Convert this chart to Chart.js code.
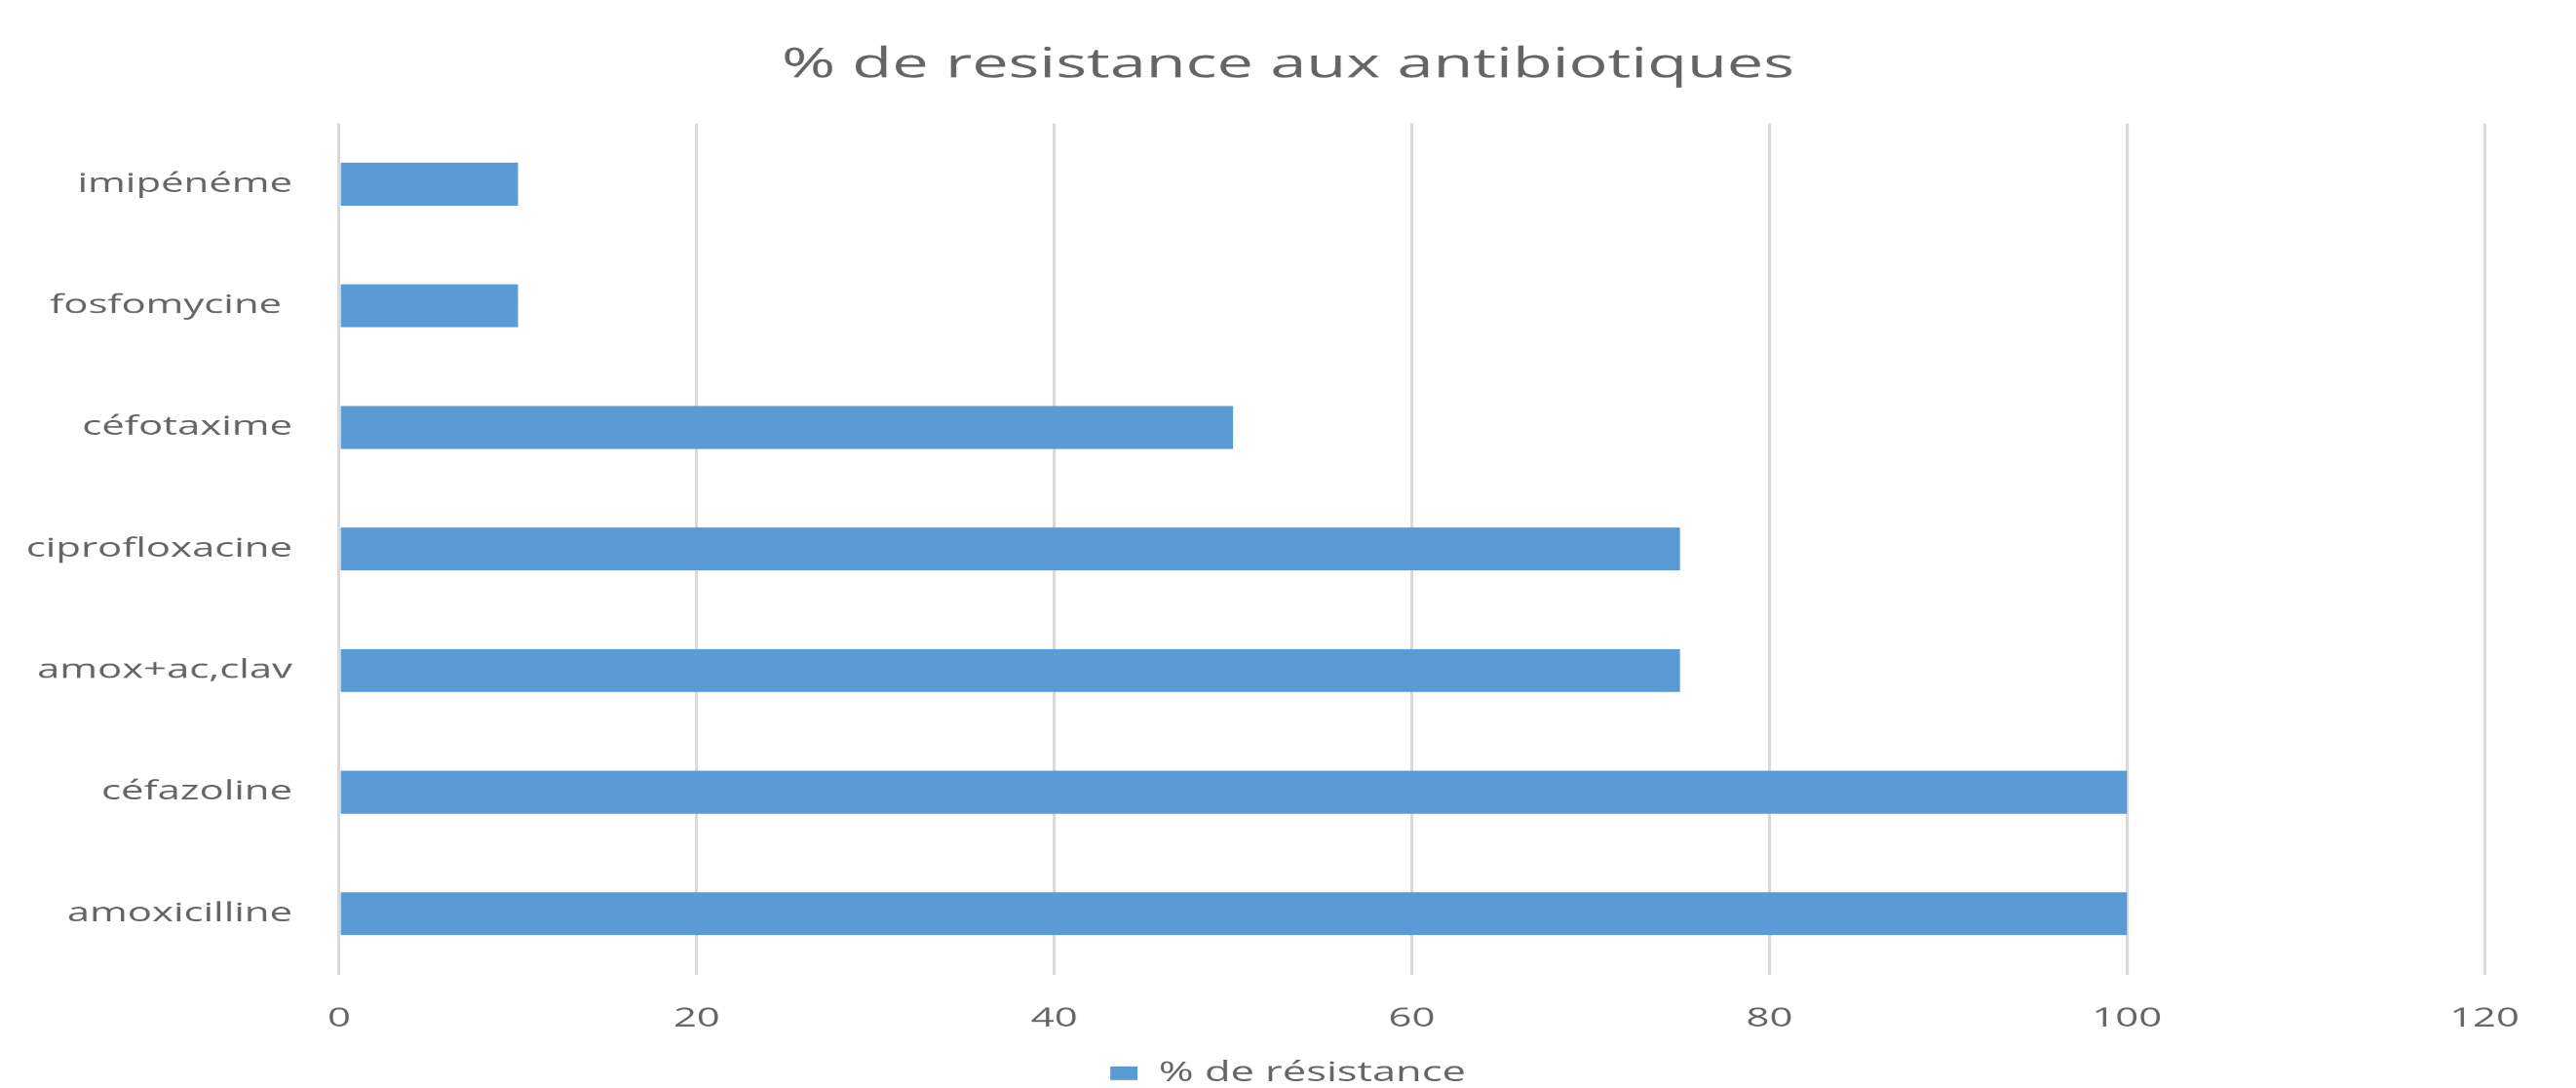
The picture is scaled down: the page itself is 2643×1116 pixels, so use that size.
<!DOCTYPE html>
<html>
<head>
<meta charset="utf-8">
<script src="https://cdn.jsdelivr.net/npm/chart.js@4.4.1/dist/chart.umd.min.js"></script>
<style>
  html, body { margin: 0; padding: 0; background: #ffffff; overflow: hidden; }
  #wrap {
    position: absolute; left: 0; top: 0;
    width: 1705px; height: 1116px;
    transform: scaleX(1.55015); transform-origin: 0 0;
  }
</style>
</head>
<body>
<div id="wrap"><canvas id="c"></canvas></div>
<script>
// Data (top to bottom as shown)
const categories = ["imipénéme", "fosfomycine ", "céfotaxime", "ciprofloxacine", "amox+ac,clav", "céfazoline", "amoxicilline"];
const resistance = [10, 10, 50, 75, 75, 100, 100];
const seriesName = "% de résistance";
const chartTitle = "% de resistance aux antibiotiques";
const xTicks = [0, 20, 40, 60, 80, 100, 120];

const STRETCH = 1.55015;
const TEXT = '#646464';
const FONT = "'Open Sans', 'DejaVu Sans', sans-serif";
const RIGHT_SPACE = 60.6;
const PAD_BOTTOM = -9;

new Chart(document.getElementById('c'), {
  type: 'bar',
  data: {
    labels: categories,
    datasets: [{
      label: seriesName,
      data: resistance,
      backgroundColor: '#5b9bd5',
      borderWidth: 0,
      barPercentage: 0.353,
      categoryPercentage: 1.0
    }]
  },
  options: {
    indexAxis: 'y',
    responsive: true,
    maintainAspectRatio: false,
    devicePixelRatio: STRETCH,
    animation: false,
    layout: { padding: { left: 0, right: 0, top: 0, bottom: PAD_BOTTOM } },
    plugins: {
      title: {
        display: true,
        text: chartTitle,
        color: TEXT,
        font: { family: FONT, size: 43, weight: 'normal' },
        padding: { top: 41, bottom: 34 }
      },
      legend: {
        display: true,
        position: 'bottom',
        labels: {
          color: TEXT,
          font: { family: FONT, size: 28 },
          boxWidth: 18,
          boxHeight: 14,
          padding: 6
        }
      },
      tooltip: { enabled: false }
    },
    scales: {
      x: {
        min: xTicks[0],
        max: xTicks[xTicks.length - 1],
        afterBuildTicks: (s) => { s.ticks = xTicks.map(v => ({ value: v })); },
        ticks: { color: TEXT, font: { family: FONT, size: 27 }, padding: 29 },
        grid: { display: true, color: '#d9d9d9', lineWidth: 2, drawTicks: false },
        border: { display: false },
        afterFit: (s) => {
          const lh = (s.chart.legend && s.chart.legend.height) ? s.chart.legend.height : 50;
          s.height = (1116 - PAD_BOTTOM) - 999.6 - lh;
        }
      },
      y: {
        ticks: { color: TEXT, font: { family: FONT, size: 27 }, padding: 31 },
        grid: { display: false, drawTicks: false },
        border: { display: false },
        afterFit: (s) => { s.width = 224.5; }
      },
      yRight: {
        type: 'category',
        position: 'right',
        display: true,
        ticks: { display: false },
        grid: { display: false, drawTicks: false },
        border: { display: false },
        afterFit: (s) => { s.width = RIGHT_SPACE; }
      }
    }
  }
});
</script>
</body>
</html>
